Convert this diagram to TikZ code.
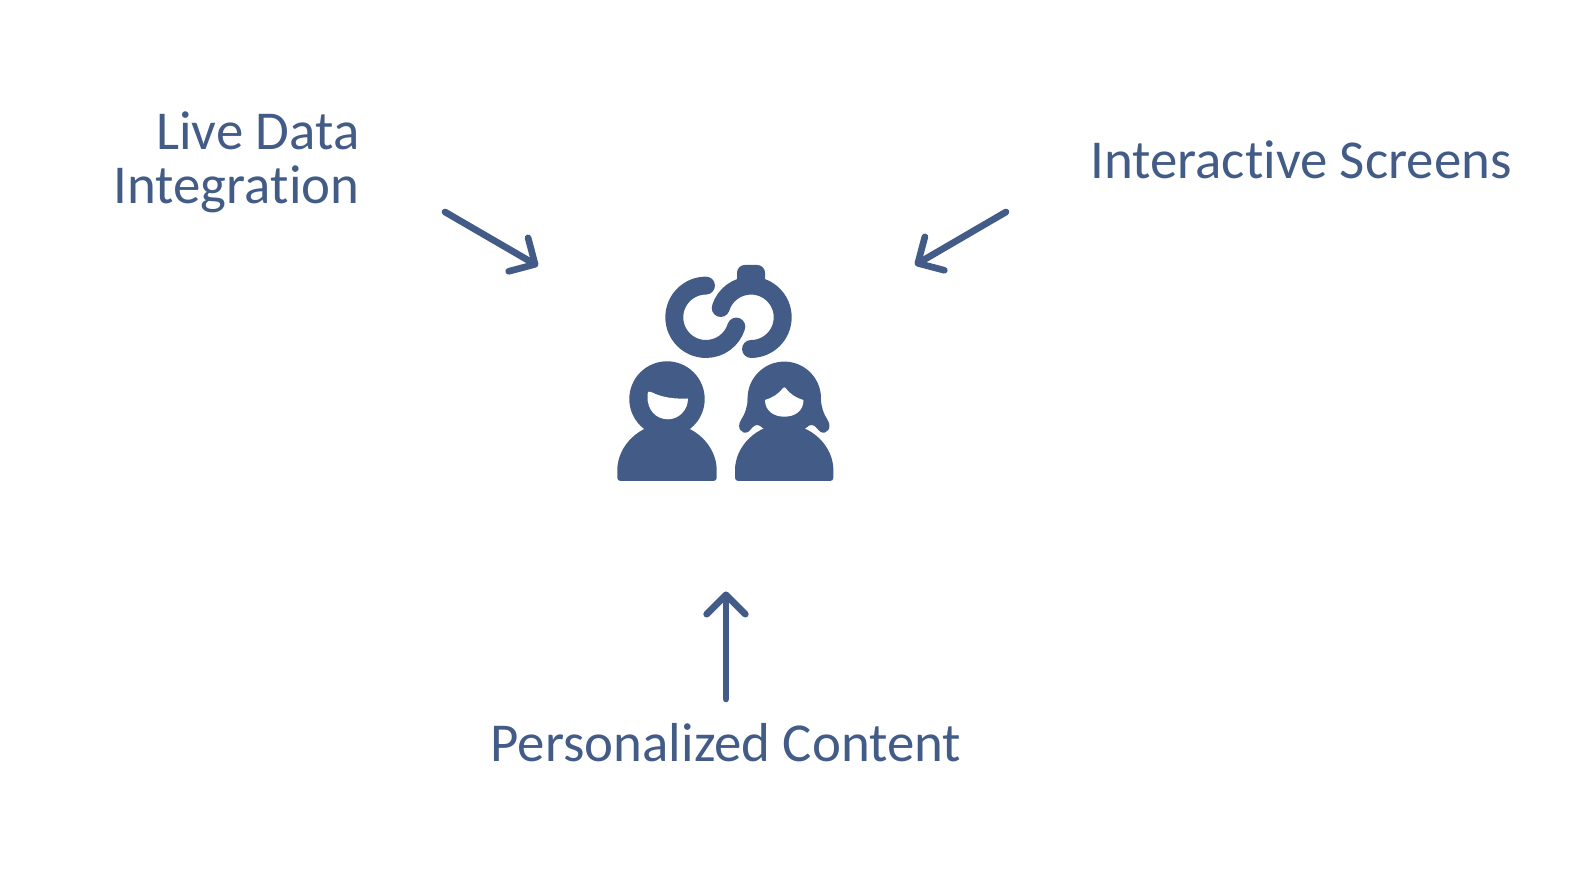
\documentclass[tikz,border=0pt]{standalone}
\usepackage{fontspec}
\setmainfont[Ligatures=NoCommon]{Carlito}
\usetikzlibrary{arrows.meta,positioning}
\definecolor{iconblue}{RGB}{66,92,135}

\begin{document}
\begin{tikzpicture}[x=0.01cm,y=0.01cm,
    labeltext/.style={font=\fontsize{15.6}{15.3}\selectfont, text=iconblue, inner sep=0pt},
    pointer/.style={draw=iconblue, line width=1.9pt, line cap=round,
      -{Straight Barb[length=5.5pt,width=11pt,round]}},
    ringpart/.style={draw=iconblue, line width=5.1pt, line cap=round}]
  \useasboundingbox (0,0) rectangle (1590,894);
  % labels
  \node[labeltext, align=right, anchor=east] (live) at (360,732) {Live Data\\Integration};
  \node[labeltext, anchor=center] (screens) at (1301,734) {Interactive Screens};
  \node[labeltext, anchor=center] (content) at (726,151) {Personalized Content};
  % arrows
  \coordinate (livefrom) at (445,682);
  \coordinate (liveto) at (538,628);
  \coordinate (screensfrom) at (1006,682);
  \coordinate (screensto) at (915,629);
  \coordinate (contentfrom) at (726,195);
  \coordinate (contentto) at (726,302.5);
  \draw[pointer] (livefrom) -- (liveto);
  \draw[pointer] (screensfrom) -- (screensto);
  \draw[pointer] (contentfrom) -- (contentto);
  % linked rings
  \draw[ringpart] (706,576.7) ++(90:31.7) arc[start angle=90,end angle=343,radius=31.7];
  \draw[ringpart] (751,576.7) ++(-90:31.7) arc[start angle=-90,end angle=163,radius=31.7];
  \fill[iconblue, rounded corners=2.2pt] (737,608) rectangle (765,629);
  % left person
  \fill[iconblue] (667,495) circle (37.7);
  \fill[iconblue, rounded corners=0.9pt] (617.3,420.7) arc[start angle=180,end angle=0,radius=49.7] -- (716.7,413) -- (617.3,413) -- cycle;
  \fill[white] (647.5,498) .. controls (647.5,503) and (649,503) .. (651,502)
    .. controls (663,496) and (675,495) .. (688,495.5)
    .. controls (688,484) and (679,474.7) .. (668,474.7)
    .. controls (656,474.7) and (647,484) .. (647.5,498) -- cycle;
  % right person
  \fill[iconblue] (784.3,495.7) circle (36.7);
  \fill[iconblue] (747.7,495.7) .. controls (747.7,488) and (745,480) .. (741,474)
    .. controls (736,466) and (742,459) .. (748,462)
    .. controls (751,464) and (753,469) .. (757,469)
    .. controls (761,469) and (764,465) .. (768,462) -- (800.6,462)
    .. controls (804.6,465) and (807.6,469) .. (811.6,469)
    .. controls (815.6,469) and (817.6,464) .. (820.6,462)
    .. controls (826.6,459) and (832.6,466) .. (827.6,474)
    .. controls (823.6,480) and (820.9,488) .. (820.9,495.7) -- cycle;
  \fill[iconblue, rounded corners=0.9pt] (735,420.7) arc[start angle=180,end angle=0,radius=49.2] -- (833.4,413) -- (735,413) -- cycle;
  \fill[white] (765,494) .. controls (765,483) and (774,477.3) .. (784.3,477.3)
    .. controls (795,477.3) and (803.5,483) .. (803.5,494)
    .. controls (796,496) and (790,500) .. (785.5,506)
    .. controls (785,506.8) and (783.6,506.8) .. (783.1,506)
    .. controls (778.6,500) and (772,496) .. (765,494) -- cycle;
\end{tikzpicture}
\end{document}
